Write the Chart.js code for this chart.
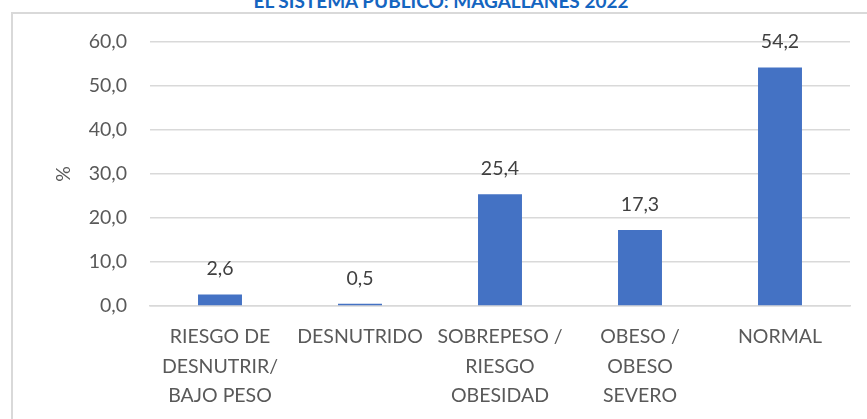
<!DOCTYPE html>
<html lang="es">
<head>
    <meta charset="UTF-8">
    <title>Estado nutricional Magallanes 2022</title>
    <script src="https://cdn.jsdelivr.net/npm/chart.js"></script>
    <style>
        html, body { margin: 0; padding: 0; background: #fff; overflow: hidden; }
        .marco {
            position: absolute;
            left: 11px;
            top: 12px;
            width: 900px;
            height: 450px;
            border-left: 2px solid #d9d9d9;
            border-top: 2px solid #d9d9d9;
        }
        .titulo {
            position: absolute;
            left: 0;
            width: 882px;
            top: -11px;
            text-align: center;
            font-family: Lato, "Liberation Sans", sans-serif;
            font-weight: bold;
            font-size: 19px;
            color: #1565c0;
            white-space: nowrap;
        }
        .grafico { position: absolute; left: 0; top: 0; width: 867px; height: 419px; }
    </style>
</head>
<body>
    <div class="titulo">EL SISTEMA PÚBLICO: MAGALLANES 2022</div>
    <div class="marco"></div>
    <div class="grafico"><canvas id="nutricionChart" width="867" height="419"></canvas></div>

    <script>
        // categorias y valores (%)
        const categorias = [
            ['RIESGO DE', 'DESNUTRIR/', 'BAJO PESO'],
            'DESNUTRIDO',
            ['SOBREPESO /', 'RIESGO', 'OBESIDAD'],
            ['OBESO /', 'OBESO', 'SEVERO'],
            'NORMAL'
        ];
        const porcentajes = [2.6, 0.5, 25.4, 17.3, 54.2];
        const ticksY = [0, 10, 20, 30, 40, 50, 60];

        const fuente = 'Lato, "Liberation Sans", sans-serif';

        // etiquetas de datos sobre las barras
        const etiquetasPlugin = {
            id: 'etiquetas',
            afterDatasetsDraw(chart) {
                const ctx = chart.ctx;
                const meta = chart.getDatasetMeta(0);
                ctx.save();
                ctx.font = '19.5px ' + fuente;
                ctx.fillStyle = '#404040';
                ctx.textAlign = 'center';
                ctx.textBaseline = 'middle';
                meta.data.forEach((bar, i) => {
                    const txt = porcentajes[i].toFixed(1).replace('.', ',');
                    ctx.fillText(txt, bar.x, bar.y - 25.5);
                });
                ctx.restore();
            }
        };

        const ctx = document.getElementById('nutricionChart').getContext('2d');
        new Chart(ctx, {
            type: 'bar',
            data: {
                labels: categorias,
                datasets: [{
                    data: porcentajes,
                    backgroundColor: '#4472c4',
                    categoryPercentage: 1,
                    barPercentage: 0.314
                }]
            },
            options: {
                responsive: false,
                animation: false,
                layout: { padding: { top: 42, right: 17, left: 0, bottom: 0 } },
                plugins: {
                    legend: { display: false },
                    tooltip: { enabled: false }
                },
                scales: {
                    x: {
                        afterFit: s => { s.height = 113; },
                        grid: { display: false, drawTicks: false },
                        border: { color: '#d9d9d9', width: 1.5 },
                        ticks: {
                            autoSkip: false,
                            maxRotation: 0,
                            padding: 16,
                            color: '#595959',
                            font: { family: fuente, size: 19.5, lineHeight: 1.52 }
                        }
                    },
                    y: {
                        min: 0,
                        max: 60,
                        afterFit: s => { s.width = 150; },
                        afterBuildTicks: s => { s.ticks = ticksY.map(v => ({ value: v })); },
                        grid: { color: '#d9d9d9', lineWidth: 1.5, drawTicks: false },
                        border: { display: false },
                        ticks: {
                            padding: 23,
                            color: '#595959',
                            font: { family: fuente, size: 19.5 },
                            callback: v => v.toFixed(1).replace('.', ',')
                        },
                        title: {
                            display: true,
                            text: '%',
                            color: '#595959',
                            font: { family: fuente, size: 19.5 },
                            padding: { top: 52, bottom: 0 }
                        }
                    }
                }
            },
            plugins: [etiquetasPlugin]
        });
    </script>
</body>
</html>
